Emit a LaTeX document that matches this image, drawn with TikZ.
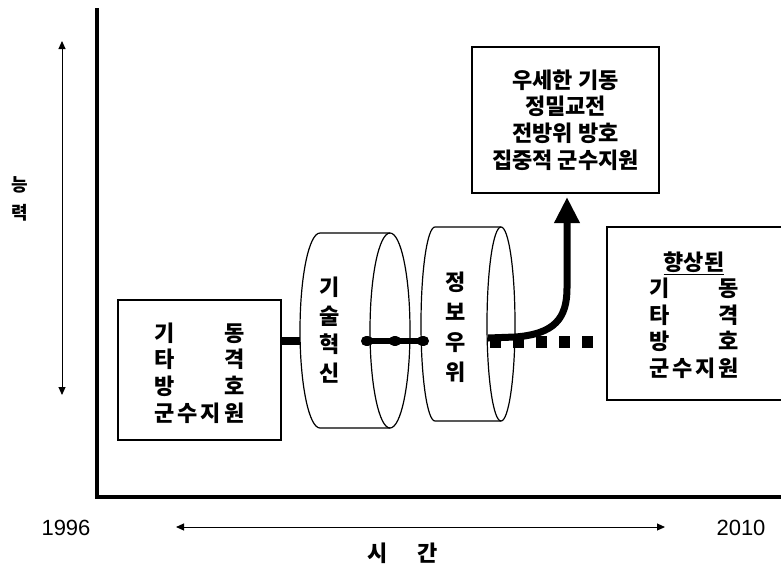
\documentclass[tikz,border=0pt]{standalone}
\usepackage{fontspec}
\setmainfont{Liberation Sans}
\newfontfamily\kr{Noto Sans CJK KR}
\usetikzlibrary{arrows.meta}
\newcommand\spreadrow[2]{\makebox[90pt]{#1\hfill #2}}
\begin{document}
\begin{tikzpicture}[x=1pt,y=-1pt,
  box/.style={draw, line width=1.4pt, inner sep=0pt},
  cylline/.style={line width=1.2pt},
  krtext/.style={font=\kr\bfseries\fontsize{22}{26.7}\selectfont, align=center, inner sep=0pt},
  numtext/.style={font=\fontsize{22}{24}\selectfont, inner sep=0pt},
  thinarrow/.style={line width=1pt, {Triangle[width=7pt,length=8pt]}-{Triangle[width=7pt,length=8pt]}},
  axisline/.style={line width=4pt},
  heavy/.style={line width=8pt},
]
\useasboundingbox (0,0) rectangle (781,566);

% axes
\coordinate (ytop) at (97,8);
\coordinate (origin) at (97,497);
\coordinate (xend) at (781,497);
\draw[axisline, line join=miter] (ytop) -- (origin) -- (xend);

% thin arrows
\coordinate (va) at (62,41);
\coordinate (vb) at (62,395);
\draw[thinarrow] (va) -- (vb);
\coordinate (ha) at (176,527);
\coordinate (hb) at (665,527);
\draw[thinarrow] (ha) -- (hb);

% axis labels
\node[krtext, font=\kr\bfseries\fontsize{18}{28}\selectfont] (ability) at (20,199) {능\\력};
\node[numtext] (y1996) at (66,528) {1996};
\node[numtext] (y2010) at (741,528) {2010};
\node[krtext] (time) at (403,553) {시\hspace{30pt}간};

% left box
\node[box, minimum width=163pt, minimum height=140pt] (lbox) at (199.5,370) {};
\node[krtext] (ltext) at (199.5,373) {\spreadrow{기}{동}\\\spreadrow{타}{격}\\\spreadrow{방}{호}\\\spreadrow{군\hfill 수\hfill 지}{원}};

% cylinder 1
\draw[cylline] (390,233) -- (320,233) arc[start angle=-90, end angle=-270, x radius=20, y radius=97.5] -- (390,428);
\draw[cylline] (390,330.5) ellipse[x radius=20, y radius=97.5];
\node[krtext, font=\kr\bfseries\fontsize{22}{28.5}\selectfont] (c1text) at (330,330) {기\\술\\혁\\신};

% cylinder 2
\draw[cylline] (501,227) -- (435,227) arc[start angle=-90, end angle=-270, x radius=14, y radius=97] -- (501,421);
\draw[cylline] (501,324) ellipse[x radius=14, y radius=97];
\node[krtext, font=\kr\bfseries\fontsize{22}{30}\selectfont] (c2text) at (456,327) {정\\보\\우\\위};

% top box
\node[box, minimum width=187pt, minimum height=146pt, krtext] (tbox) at (565.5,120) {우세한 기동\\정밀교전\\전방위 방호\\집중적 군수지원};

% right box (cut by the page edge)
\node[box, minimum width=186pt, minimum height=173pt] (rbox) at (700,313.5) {};
\node[krtext, font=\kr\bfseries\fontsize{22}{26.5}\selectfont] (rtext) at (694,315) {\underline{향상된}\\\spreadrow{기}{동}\\\spreadrow{타}{격}\\\spreadrow{방}{호}\\\spreadrow{군\hfill 수\hfill 지}{원}};

% connectors
\coordinate (c1left) at (300,341);
\draw[heavy] (lbox.east |- c1left) -- (c1left);
\coordinate (c1face) at (366,341);
\coordinate (c2left) at (424,341);
\draw[line width=6pt] (c1face) -- (c2left);
\draw[line width=10pt, line cap=round, dash pattern=on 2pt off 26pt] (c1face) -- (c2left);

\coordinate (sqstart) at (490,342);
\coordinate (sqend) at (593,342);
\draw[line width=12pt, dash pattern=on 11pt off 12pt] (sqstart) -- (sqend);

\coordinate (c2face) at (488,338);
\coordinate (arrowtip) at (567,197);
\draw[line width=7pt, -{Triangle[width=24pt,length=26pt]}] (c2face) -- (515,337) .. controls (555,334) and (567,318) .. (567,288) -- (arrowtip);
\end{tikzpicture}
\end{document}
